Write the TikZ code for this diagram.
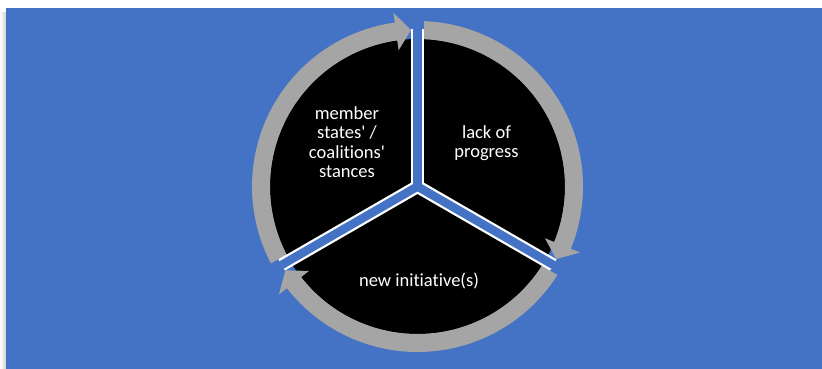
\documentclass[tikz,border=0pt]{standalone}
\usepackage{fontspec}
\setmainfont{Carlito}[Ligatures={NoCommon}]
\usetikzlibrary{calc}
\definecolor{bgblue}{HTML}{4472C4}
\definecolor{ringgray}{HTML}{A5A5A5}
\newcommand{\apos}{\textquotesingle}

\begin{document}
\begin{tikzpicture}[x=1pt,y=1pt,
  labeltext/.style={text=white, align=center, font=\fontsize{18.5}{19.5}\selectfont},
  ringarc/.style={draw=ringgray, line width=18pt},
  ringhead/.style={fill=ringgray},
  gapedge/.style={draw=white, line width=13pt},
  gapfill/.style={draw=bgblue, line width=8.5pt},
  gapcut/.style={draw=bgblue, line width=13pt},
]
\useasboundingbox (0,0) rectangle (822,369);
% soft shadow along the left edge of the panel
\shade[left color=white, right color=black!18] (0,0) rectangle (6,356);
\fill[bgblue] (6,0) rectangle (822,361);

\begin{scope}[shift={(417.5,182.5)}]
  \coordinate (c) at (0,0);
  % the disk that carries the three sectors
  \fill[black] (c) circle[radius=147.5pt];

  % three clockwise arrows around the disk
  \foreach \s/\t in {89/-27.6, -31/-147.6, 209/92.4}{
    \pgfmathsetmacro\hbase{\t+5.5}
    \draw[ringarc] (\s:156.5) arc[start angle=\s, end angle=\hbase-0.6, radius=156.5pt];
    \fill[ringhead] (\t:156.5) -- (\hbase:137.5) -- (\hbase:175.5) -- cycle;
  }

  % gaps separating the sectors
  \foreach \a in {90,-30,210}
    \draw[gapedge] (c) -- (\a:157);
  \foreach \a in {90,-30,210}{
    \draw[gapfill] (c) -- (\a:157);
    \draw[gapcut] (\a:157) -- (\a:168);
  }

  \node[labeltext] (stances) at (-70.5,44.5) {member\\states\apos{} /\\coalitions\apos\\stances};
  \node[labeltext] (progress) at (69,43.5) {lack of\\progress};
  \node[labeltext] (initiative) at (1.5,-94.2) {new initiative(s)};
\end{scope}
\end{tikzpicture}
\end{document}
